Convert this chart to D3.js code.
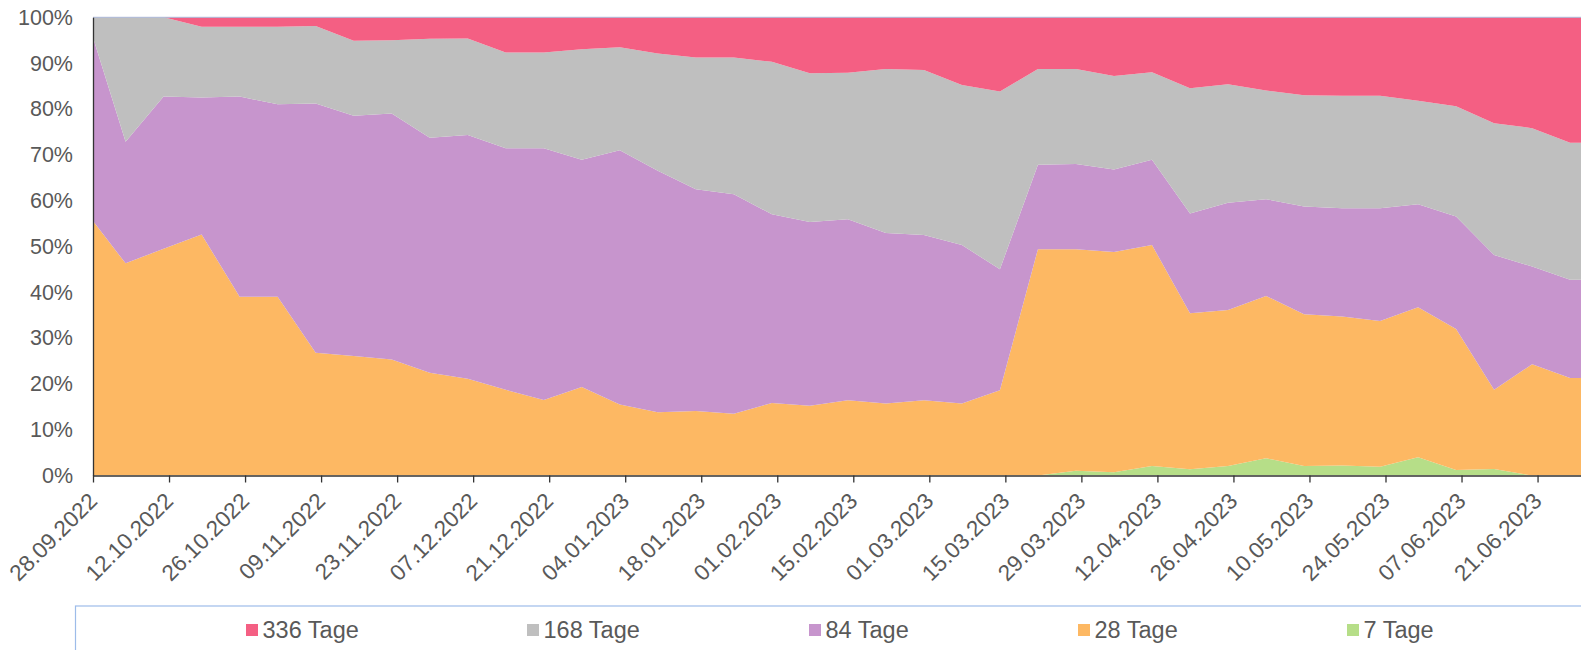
<!DOCTYPE html>
<html>
<head>
<meta charset="utf-8">
<script src="https://cdn.jsdelivr.net/npm/d3@7"></script>
<style>
  html, body { margin: 0; padding: 0; background: #fff; }
  svg { display: block; }
  text { font-family: "Liberation Sans", Arial, sans-serif; fill: #595959; }
</style>
</head>
<body>
<svg id="chart" width="1581" height="650"></svg>
<script>
// ---------- data ----------
const dates = [
  "27.09.2022","04.10.2022","11.10.2022","18.10.2022","25.10.2022","01.11.2022","08.11.2022","15.11.2022",
  "22.11.2022","29.11.2022","06.12.2022","13.12.2022","20.12.2022","27.12.2022","03.01.2023","10.01.2023",
  "17.01.2023","24.01.2023","31.01.2023","07.02.2023","14.02.2023","21.02.2023","28.02.2023","07.03.2023",
  "14.03.2023","21.03.2023","28.03.2023","04.04.2023","11.04.2023","18.04.2023","25.04.2023","02.05.2023",
  "09.05.2023","16.05.2023","23.05.2023","30.05.2023","06.06.2023","13.06.2023","20.06.2023","27.06.2023"
];
const seriesNames = ["7 Tage", "28 Tage", "84 Tage", "168 Tage", "336 Tage"];
const tage7 = [
  0,0,0,0,0,0,0,0,0,0,0,0,0,0,0,0,0,0,0,0,0,0,0,0,0,
  0,1.05,0.7,2.1,1.35,2.1,3.75,2.1,2.2,1.9,4.0,1.2,1.4,0,0
];
const tage28 = [
  57.1,46.3,49.5,52.6,39.0,39.0,26.8,26.1,25.3,22.4,21.1,18.7,16.5,19.3,15.5,13.8,14.1,13.5,15.8,15.2,
  16.4,15.7,16.4,15.7,18.6,49.4,48.35,48.1,48.2,34.05,34.0,35.45,33.1,32.5,31.8,32.7,30.8,17.3,24.3,21.3
];
const tage84 = [
  42.3,26.55,33.2,29.9,43.7,42.0,54.4,52.4,53.7,51.3,53.2,52.7,54.9,49.6,55.5,52.7,48.4,47.9,41.2,40.1,
  39.5,37.2,36.1,34.6,26.4,18.4,18.6,18.0,18.6,21.8,23.4,21.1,23.5,23.6,24.6,22.5,24.5,29.4,21.3,21.4
];
const tage168 = [
  0.6,27.15,17.3,15.45,15.25,16.95,16.9,16.4,16.0,21.6,21.1,20.9,20.9,24.1,22.45,25.6,28.7,29.8,33.3,32.5,
  32.0,35.8,36.0,34.9,38.8,20.9,20.7,20.4,19.1,27.3,25.9,23.7,24.3,24.6,24.6,22.6,24.1,28.8,30.2,29.9
];
const tage336 = [
  0,0,0,2.05,2.05,2.05,1.9,5.1,5.0,4.7,4.6,7.7,7.7,7.0,6.55,7.9,8.8,8.8,9.7,12.2,
  12.1,11.3,11.5,14.8,16.2,11.3,11.3,12.8,12.0,15.5,14.6,16.0,17.0,17.1,17.1,18.2,19.4,23.1,24.2,27.4
];
const tickLabels = [
  "28.09.2022","12.10.2022","26.10.2022","09.11.2022","23.11.2022","07.12.2022","21.12.2022",
  "04.01.2023","18.01.2023","01.02.2023","15.02.2023","01.03.2023","15.03.2023","29.03.2023",
  "12.04.2023","26.04.2023","10.05.2023","24.05.2023","07.06.2023","21.06.2023"
];
const axisStart = "28.09.2022";
const axisEnd = "29.06.2023";
const colors = ["#B6DE88", "#FDB863", "#C795CD", "#BFBFBF", "#F45F83"];
const legendOrder = ["336 Tage", "168 Tage", "84 Tage", "28 Tage", "7 Tage"];

// ---------- layout ----------
const parse = d3.timeParse("%d.%m.%Y");
const plot = { left: 93, right: 1581, top: 17.3, bottom: 475.5 };
const svg = d3.select("#chart");

const valuesBySeries = [tage7, tage28, tage84, tage168, tage336];
const rows = dates.map((d, i) => {
  const r = { date: parse(d) };
  seriesNames.forEach((n, k) => r[n] = valuesBySeries[k][i]);
  return r;
});
// carry the last row to the end of the axis so the area fills the plot
const lastRow = Object.assign({}, rows[rows.length - 1], { date: parse(axisEnd) });
const rowsExt = rows.concat([lastRow]);

const x = d3.scaleTime().domain([parse(axisStart), parse(axisEnd)]).range([plot.left, plot.right]);
const y = d3.scaleLinear().domain([0, 1]).range([plot.bottom, plot.top]);

const stack = d3.stack().keys(seriesNames).offset(d3.stackOffsetExpand);
const layers = stack(rowsExt);

svg.append("clipPath").attr("id", "clip")
  .append("rect").attr("x", plot.left).attr("y", plot.top)
  .attr("width", plot.right - plot.left).attr("height", plot.bottom - plot.top);

const area = d3.area()
  .x(d => x(d.data.date))
  .y0(d => y(d[0]))
  .y1(d => y(d[1]));

svg.append("g").attr("clip-path", "url(#clip)")
  .selectAll("path").data(layers).join("path")
  .attr("d", area)
  .attr("fill", (d, i) => colors[i]);

// top border line
svg.append("line")
  .attr("x1", plot.left).attr("x2", plot.right)
  .attr("y1", plot.top).attr("y2", plot.top)
  .attr("stroke", "#A9B6D6").attr("stroke-width", 1);

// y axis
const yAxis = d3.axisLeft(y).tickValues(d3.range(0, 1.0001, 0.1)).tickFormat(d3.format(".0%")).tickSize(0).tickPadding(20);
const gy = svg.append("g").attr("transform", `translate(${plot.left},0)`).call(yAxis);
gy.select(".domain").attr("stroke", "#333").attr("stroke-width", 1.3);
gy.selectAll("text").style("font-size", "21.5px").attr("fill", "#595959")
  .attr("font-family", "Liberation Sans, Arial, sans-serif");

// x axis
const tickDates = tickLabels.map(parse);
const xAxis = d3.axisBottom(x).tickValues(tickDates).tickFormat(d3.timeFormat("%d.%m.%Y")).tickSize(7).tickSizeOuter(0);
const gx = svg.append("g").attr("transform", `translate(0,${plot.bottom})`).call(xAxis);
gx.select(".domain").attr("stroke", "#333").attr("stroke-width", 1.3);
gx.selectAll(".tick line").attr("stroke", "#333").attr("stroke-width", 1.3);
gx.selectAll("text")
  .style("font-size", "22.5px").attr("fill", "#595959")
  .attr("font-family", "Liberation Sans, Arial, sans-serif")
  .attr("text-anchor", "end")
  .attr("y", 0).attr("dy", 0)
  .attr("transform", "translate(5,27) rotate(-45)");

// legend
svg.append("rect")
  .attr("x", 75.5).attr("y", 606).attr("width", 1600).attr("height", 100)
  .attr("fill", "none").attr("stroke", "#9DBCE9").attr("stroke-width", 1.2);
const legendX = [246, 527, 809, 1078, 1347];
const lg = svg.append("g").selectAll("g").data(legendOrder).join("g")
  .attr("transform", (d, i) => `translate(${legendX[i]},624)`);
lg.append("rect").attr("width", 12).attr("height", 12)
  .attr("fill", d => colors[seriesNames.indexOf(d)]);
lg.append("text").attr("x", 16.5).attr("y", 14.3)
  .style("font-size", "23.5px").attr("fill", "#595959").text(d => d);
</script>
</body>
</html>
